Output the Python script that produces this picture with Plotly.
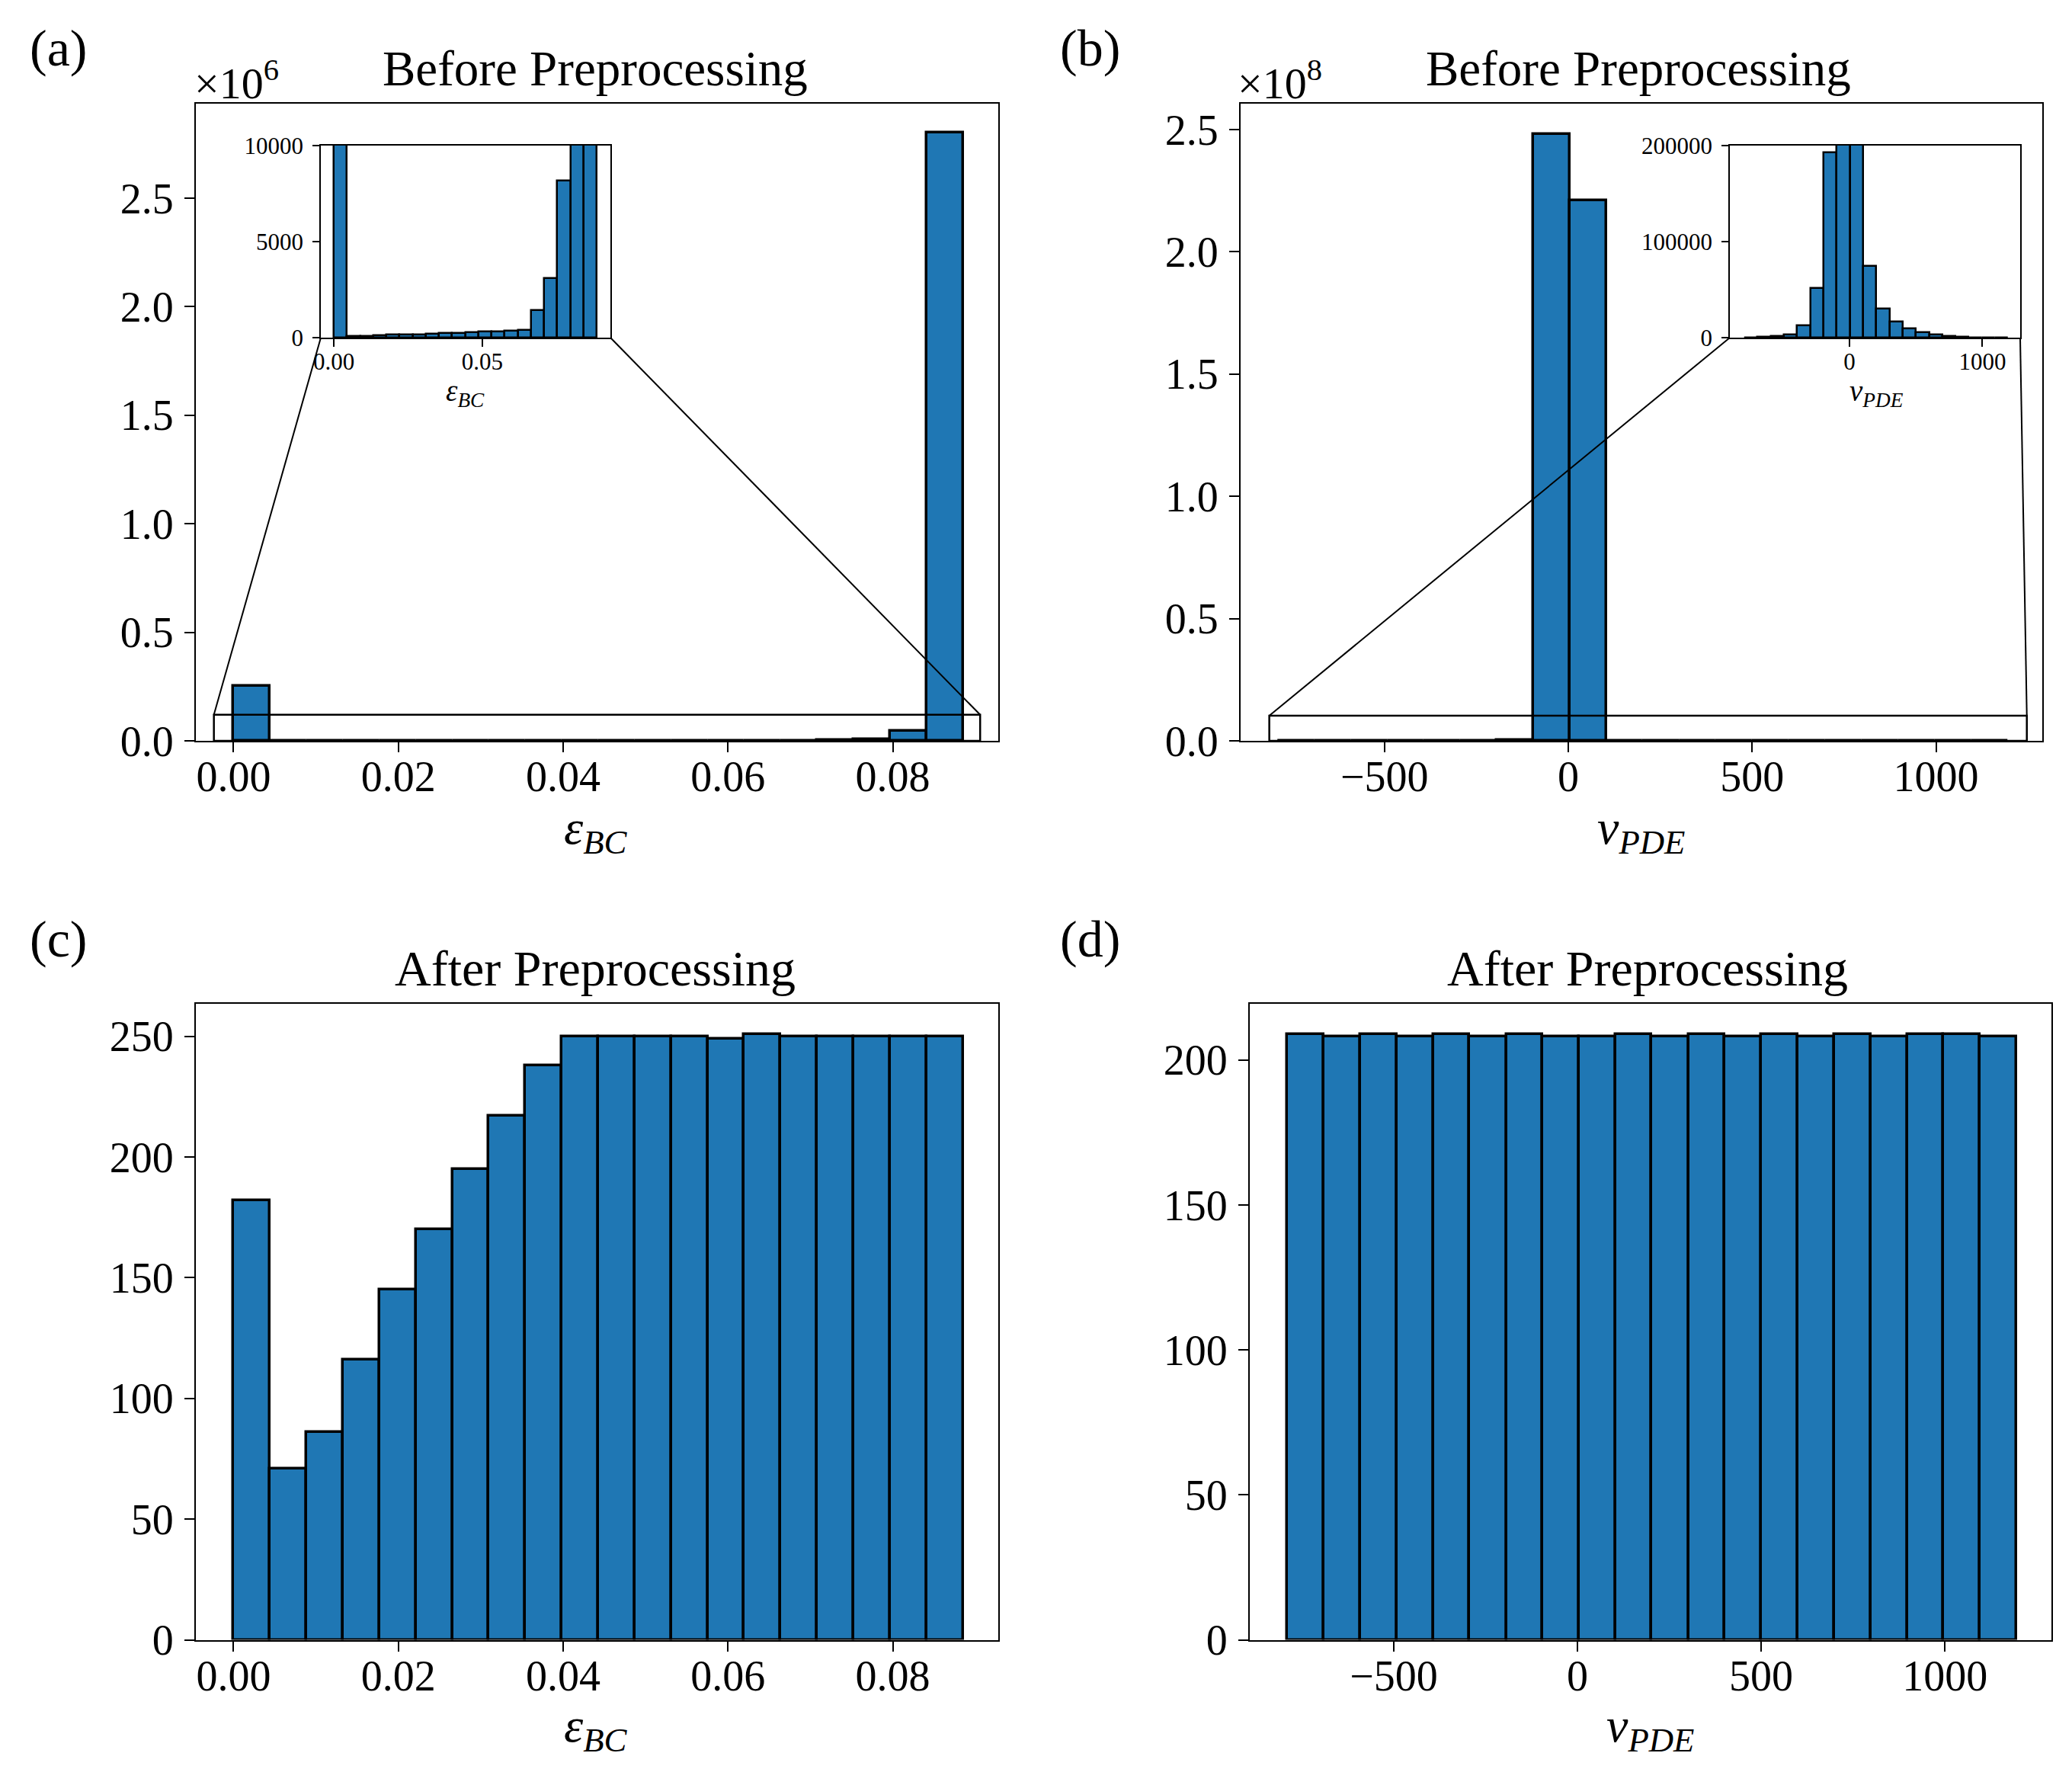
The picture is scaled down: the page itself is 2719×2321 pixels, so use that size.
import numpy as np
import plotly.graph_objects as go

W = 2719
H = 2321
PAGE_GAP = 8  # body margin of the written page

# ------------------------------
# data
eps_edges = [0.0, 0.004425, 0.00885, 0.013275, 0.0177, 0.022125, 0.02655, 0.030975, 0.0354, 0.039825, 0.04425,
             0.048675, 0.0531, 0.057525, 0.06195, 0.066375, 0.0708, 0.075225, 0.07965, 0.084075, 0.0885]
v_edges = [-790, -691, -591, -492, -393, -294, -194, -95, 4, 103, 202, 302, 401, 500, 599, 699, 798, 897, 996, 1096, 1195]

eps_before = [253000, 70, 70, 120, 150, 170, 170, 200, 240, 240, 270, 320, 320, 350, 380, 1440, 3110, 8170, 47000, 2800000]
v_before = [300, 700, 1200, 3000, 13000, 51700, 193000, 248200000, 221000000, 74800, 29800, 17000, 9700, 5800, 3300, 1500, 600, 400, 300, 250]
eps_after = [182, 71, 86, 116, 145, 170, 195, 217, 238, 250, 250, 250, 250, 249, 251, 250, 250, 250, 250, 250]
v_after = [209, 208, 209, 208, 209, 208, 209, 208, 208, 209, 208, 209, 208, 209, 208, 209, 208, 209, 209, 208]

eps_ticks = [0.0, 0.02, 0.04, 0.06, 0.08]
eps_ticktext = ['0.00', '0.02', '0.04', '0.06', '0.08']
v_ticks = [-500, 0, 500, 1000]
v_ticktext = ['\u2212500', '0', '500', '1000']
a_yticks = [0, 500000, 1000000, 1500000, 2000000, 2500000]
a_yticktext = ['0.0', '0.5', '1.0', '1.5', '2.0', '2.5']
b_yticks = [0, 50000000, 100000000, 150000000, 200000000, 250000000]
b_yticktext = ['0.0', '0.5', '1.0', '1.5', '2.0', '2.5']
c_yticks = [0, 50, 100, 150, 200, 250]
d_yticks = [0, 50, 100, 150, 200]
inset_a_xticks = [0.0, 0.05]
inset_a_xticktext = ['0.00', '0.05']
inset_a_yticks = [0, 5000, 10000]
inset_b_xticks = [0, 1000]
inset_b_yticks = [0, 100000, 200000]

# zoom rectangles drawn on the big panels: x0, x1, y0, y1
zoom_a = [-0.00238, 0.0906, 0, 120000]
zoom_b = [-813, 1247, 0, 10300000]

# ------------------------------
# axis ranges
a_xrange = [-0.00457, 0.0928]
a_yrange = [0, 2935000]
b_xrange = [-891, 1289]
b_yrange = [0, 260600000]
c_yrange = [0, 263.5]
d_xrange = [-892, 1290]
d_yrange = [0, 219.4]
inset_a_xrange = [-0.00436, 0.0931]
inset_a_yrange = [0, 10000]
inset_b_xrange = [-900, 1284]
inset_b_yrange = [0, 200000]

FONT = 'Liberation Serif'
BLUE = '#1f77b4'
EPS = '<i>\u03b5</i><sub><i>BC</i></sub>'
VPDE = '<i>v</i><sub><i>PDE</i></sub>'

FIG_W = W - 2 * PAGE_GAP
FIG_H = H - 2 * PAGE_GAP


def px_x(x):
    return (x - PAGE_GAP) / FIG_W


def px_y(y):
    return 1 - (y - PAGE_GAP) / FIG_H


def xdom(left, right):
    return [px_x(left), px_x(right)]


def ydom(top, bottom):
    return [px_y(bottom), px_y(top)]


def to_paper(val, rng, dom):
    return dom[0] + (val - rng[0]) / (rng[1] - rng[0]) * (dom[1] - dom[0])


def x_axis(dom, rng, ticks, text, anchor, size=56, ticklen=13, lw=2, standoff=-16):
    return dict(domain=dom, range=rng, anchor=anchor, tickvals=ticks, ticktext=text, showgrid=False, zeroline=False,
                showline=True, mirror=True, linecolor='black', linewidth=lw, ticks='outside', ticklen=ticklen,
                tickwidth=2, tickcolor='black', tickfont=dict(family=FONT, size=size, color='black'),
                ticklabelstandoff=standoff, tickangle=0, automargin=False)


def y_axis(dom, rng, ticks, text, anchor, size=56, ticklen=13, lw=2, standoff=3):
    return dict(domain=dom, range=rng, anchor=anchor, tickvals=ticks, ticktext=text, showgrid=False, zeroline=False,
                showline=True, mirror=True, linecolor='black', linewidth=lw, ticks='outside', ticklen=ticklen,
                tickwidth=2, tickcolor='black', tickfont=dict(family=FONT, size=size, color='black'),
                ticklabelstandoff=standoff, automargin=False)


def hist_bar(edges, counts, xa, ya, lw=3.5):
    return go.Bar(x=edges[:-1], y=counts, width=np.diff(edges), offset=0, xaxis=xa, yaxis=ya,
                  marker=dict(color=BLUE, line=dict(color='black', width=lw)), showlegend=False)


# ------------------------------
fig = go.Figure()
fig.add_trace(hist_bar(eps_edges, eps_before, 'x', 'y'))
fig.add_trace(hist_bar(v_edges, v_before, 'x2', 'y2'))
fig.add_trace(hist_bar(eps_edges, eps_after, 'x3', 'y3'))
fig.add_trace(hist_bar(v_edges, v_after, 'x4', 'y4'))
fig.add_trace(hist_bar(eps_edges, eps_before, 'x5', 'y5', lw=2.5))
fig.add_trace(hist_bar(v_edges, v_before, 'x6', 'y6', lw=2.5))

a_x = xdom(257, 1310)
b_x = xdom(1628, 2680)
c_x = xdom(257, 1310)
d_x = xdom(1640, 2692)
top_y = ydom(136, 972)
bot_y = ydom(1317, 2151.5)
inset_a_x = xdom(421, 801)
inset_b_x = xdom(2270, 2651)
inset_y = ydom(191, 443)

fig.update_layout(
    xaxis=x_axis(a_x, a_xrange, eps_ticks, eps_ticktext, 'y'),
    yaxis=y_axis(top_y, a_yrange, a_yticks, a_yticktext, 'x'),
    xaxis2=x_axis(b_x, b_xrange, v_ticks, v_ticktext, 'y2'),
    yaxis2=y_axis(top_y, b_yrange, b_yticks, b_yticktext, 'x2'),
    xaxis3=x_axis(c_x, a_xrange, eps_ticks, eps_ticktext, 'y3'),
    yaxis3=y_axis(bot_y, c_yrange, c_yticks, c_yticks, 'x3'),
    xaxis4=x_axis(d_x, d_xrange, v_ticks, v_ticktext, 'y4'),
    yaxis4=y_axis(bot_y, d_yrange, d_yticks, d_yticks, 'x4'),
    xaxis5=x_axis(inset_a_x, inset_a_xrange, inset_a_xticks, inset_a_xticktext, 'y5', size=31, ticklen=10, lw=1.5, standoff=-7),
    yaxis5=y_axis(inset_y, inset_a_yrange, inset_a_yticks, inset_a_yticks, 'x5', size=31, ticklen=9, lw=1.5, standoff=6),
    xaxis6=x_axis(inset_b_x, inset_b_xrange, inset_b_xticks, inset_b_xticks, 'y6', size=31, ticklen=10, lw=1.5, standoff=-7),
    yaxis6=y_axis(inset_y, inset_b_yrange, inset_b_yticks, inset_b_yticks, 'x6', size=31, ticklen=9, lw=1.5, standoff=6),
    width=FIG_W, height=FIG_H, margin=dict(l=0, r=0, t=0, b=0), paper_bgcolor='white', plot_bgcolor='white', bargap=0,
    font=dict(family=FONT, color='black'),
)

# ------------------------------
# zoom rectangles and the lines to the insets
for zoom, xa, ya in [(zoom_a, 'x', 'y'), (zoom_b, 'x2', 'y2')]:
    fig.add_shape(type='rect', xref=xa, yref=ya, x0=zoom[0], x1=zoom[1], y0=zoom[2], y1=zoom[3],
                  line=dict(color='black', width=2.5))

connectors = [
    (zoom_a[0], zoom_a[3], a_xrange, a_yrange, a_x, top_y, inset_a_xrange[0], inset_a_xrange, inset_a_x),
    (zoom_a[1], zoom_a[3], a_xrange, a_yrange, a_x, top_y, inset_a_xrange[1], inset_a_xrange, inset_a_x),
    (zoom_b[0], zoom_b[3], b_xrange, b_yrange, b_x, top_y, inset_b_xrange[0], inset_b_xrange, inset_b_x),
    (zoom_b[1], zoom_b[3], b_xrange, b_yrange, b_x, top_y, inset_b_xrange[1], inset_b_xrange, inset_b_x),
]
for zx, zy, xr, yr, xd, yd, ix, ixr, ixd in connectors:
    fig.add_shape(type='line', xref='paper', yref='paper',
                  x0=to_paper(zx, xr, xd), y0=to_paper(zy, yr, yd),
                  x1=to_paper(ix, ixr, ixd), y1=inset_y[0],
                  line=dict(color='black', width=2))


# ------------------------------
# titles, panel letters, axis labels, offset text
def note(text, x, y, size, xanchor='center', yanchor='middle'):
    fig.add_annotation(text=text, x=px_x(x), y=px_y(y), xref='paper', yref='paper', showarrow=False,
                       xanchor=xanchor, yanchor=yanchor, font=dict(family=FONT, size=size, color='black'))


note('Before Preprocessing', 781, 90, 65)
note('Before Preprocessing', 2150, 90, 65)
note('After Preprocessing', 781, 1270, 66)
note('After Preprocessing', 2162, 1270, 66)

note('(a)', 76, 63, 68)
note('(b)', 1430, 63, 68)
note('(c)', 76, 1232, 68)
note('(d)', 1430, 1232, 68)

note('\u00d710<sup>6</sup>', 253, 105, 58, xanchor='left')
note('\u00d710<sup>8</sup>', 1622, 105, 58, xanchor='left')

note(EPS, 782, 1090, 64)
note(VPDE, 2154, 1090, 64)
note(EPS, 782, 2268, 64)
note(VPDE, 2166, 2268, 64)
note(EPS, 610, 515, 39)
note(VPDE, 2462, 515, 39)

fig.write_html("out.html")
